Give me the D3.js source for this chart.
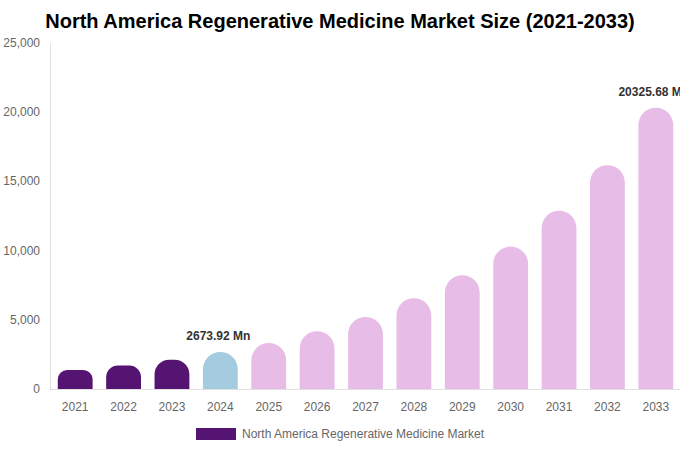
<!DOCTYPE html>
<html><head><meta charset="utf-8">
<script src="https://cdn.jsdelivr.net/npm/d3@7"></script>
<style>body{margin:0;background:#fff;} svg{font-family:"Liberation Sans",Arial,sans-serif;}</style>
</head><body><svg id="c" width="680" height="450"></svg>
<script>
const years = ["2021","2022","2023","2024","2025","2026","2027","2028","2029","2030","2031","2032","2033"];
const values = [1370, 1690, 2120, 2673.92, 3330, 4175, 5205, 6560, 8220, 10290, 12880, 16170, 20325.68];
const yTicks = [0, 5000, 10000, 15000, 20000, 25000];
const labeled = {"2024": "2673.92 Mn", "2033": "20325.68 Mn"};
const title = "North America Regenerative Medicine Market Size (2021-2033)";
const legendLabel = "North America Regenerative Medicine Market";

const svg = d3.select("#c");
const m = {l:51, r:680, t:43, b:389};
const x = d3.scaleBand().domain(years).range([m.l, m.r]).paddingInner(0.28).paddingOuter(0.14);
const y = d3.scaleLinear().domain([0, 25000]).range([m.b, m.t]);

svg.append("text").attr("x", 340).attr("y", 28).attr("text-anchor","middle")
  .attr("font-size", 20).attr("font-weight","bold").attr("fill","#000").text(title);

svg.append("line").attr("x1", 50.5).attr("x2", 50.5).attr("y1", m.t).attr("y2", m.b).attr("stroke","#e0e0e0");
svg.append("line").attr("x1", 50).attr("x2", 680).attr("y1", m.b+0.5).attr("y2", m.b+0.5).attr("stroke","#e0e0e0");

svg.selectAll(".yt").data(yTicks).join("text").attr("x", 40).attr("y", d=>y(d)+4)
  .attr("text-anchor","end").attr("font-size",12).attr("fill","#666").text(d=>d3.format(",")(d));

svg.selectAll(".xt").data(years).join("text").attr("x", d=>x(d)+x.bandwidth()/2).attr("y", 411)
  .attr("text-anchor","middle").attr("font-size",12).attr("fill","#666").text(d=>d);

function color(yr){ const n=+yr; return n<2024 ? "#551372" : n===2024 ? "#a5cbe0" : "#e7bde8"; }
function barPath(x0, w, top, bottom){
  const r = Math.min(w/2, (bottom-top)/2);
  return `M${x0},${bottom}L${x0},${top+r}A${r},${r} 0 0 1 ${x0+r},${top}L${x0+w-r},${top}A${r},${r} 0 0 1 ${x0+w},${top+r}L${x0+w},${bottom}Z`;
}
svg.selectAll(".bar").data(years).join("path")
  .attr("d", (d,i)=>barPath(x(d), x.bandwidth(), y(values[i]), y(0)))
  .attr("fill", d=>color(d));

svg.selectAll(".lbl").data(years.filter(d=>labeled[d])).join("text")
  .attr("x", d=>x(d)+x.bandwidth()/2-2).attr("y", d=>y(values[years.indexOf(d)])-12)
  .attr("text-anchor","middle").attr("font-size",12).attr("font-weight","bold").attr("fill","#333")
  .text(d=>labeled[d]);

svg.append("rect").attr("x",196).attr("y",428).attr("width",40).attr("height",12).attr("fill","#551372");
svg.append("text").attr("x",242).attr("y",438).attr("font-size",12).attr("fill","#666").text(legendLabel);
</script></body></html>
